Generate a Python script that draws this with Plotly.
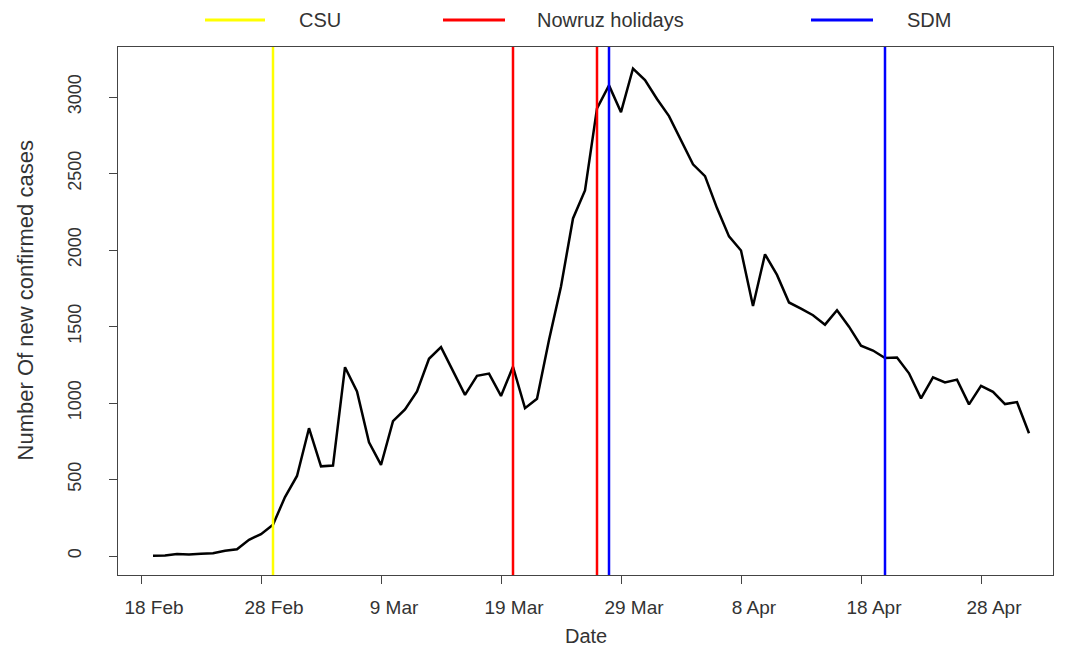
import plotly.graph_objects as go
import pandas as pd

# ---------------- data ----------------
start_date = "2020-02-19"
new_cases = [2, 3, 13, 10, 15, 18, 34, 44, 106, 143, 205, 385, 523, 835, 586, 591,
             1234, 1076, 743, 595, 881, 958, 1075, 1289, 1365, 1209, 1053, 1178, 1192,
             1046, 1237, 966, 1028, 1411, 1762, 2206, 2389, 2926, 3076, 2901, 3186, 3110,
             2987, 2875, 2715, 2560, 2483, 2274, 2089, 1997, 1634, 1972, 1837, 1657, 1617,
             1574, 1512, 1606, 1499, 1374, 1343, 1294, 1297, 1194, 1030, 1168, 1134, 1153,
             991, 1112, 1073, 993, 1006, 802]
dates = pd.date_range(start_date, periods=len(new_cases), freq="D")

event_names = ["CSU", "Nowruz holidays", "Nowruz holidays", "SDM", "SDM"]
event_dates = ["2020-02-29", "2020-03-20", "2020-03-27", "2020-03-28", "2020-04-20"]
event_colors = {"CSU": "#FFFF00", "Nowruz holidays": "#FF0000", "SDM": "#0000FF"}

x_tick_dates = ["2020-02-18", "2020-02-28", "2020-03-09", "2020-03-19",
                "2020-03-29", "2020-04-08", "2020-04-18", "2020-04-28"]
x_tick_labels = ["18 Feb", "28 Feb", "9 Mar", "19 Mar", "29 Mar", "8 Apr", "18 Apr", "28 Apr"]
y_tick_vals = [0, 500, 1000, 1500, 2000, 2500, 3000]

# ---------------- layout geometry (pixels) ----------------
W, H = 1069, 649
L, R, T, B = 118, 1053, 47, 575
FONT = "Liberation Sans, Arial"
TXT = "#333333"


def px_x(px):
    return (px - L) / (R - L)


def px_y(py):
    return (B - py) / (B - T)


fig = go.Figure()
fig.add_trace(go.Scatter(x=dates, y=new_cases, mode="lines",
                         line=dict(color="black", width=2.5),
                         showlegend=False, hoverinfo="x+y"))

for name, d in zip(event_names, event_dates):
    fig.add_shape(type="line", xref="x", yref="paper", x0=d, x1=d, y0=0, y1=1,
                  line=dict(color=event_colors[name], width=2.5), layer="above")

# manual legend on top
legend_items = [("CSU", 205, 265, 297), ("Nowruz holidays", 443, 505, 535), ("SDM", 811, 873, 905)]
ly = px_y(20)
for name, x0, x1, xt in legend_items:
    fig.add_shape(type="line", xref="paper", yref="paper", x0=px_x(x0), x1=px_x(x1),
                  y0=ly, y1=ly, line=dict(color=event_colors[name], width=3))
    fig.add_annotation(text=name, xref="paper", yref="paper", x=px_x(xt), y=ly,
                       xanchor="left", yanchor="middle", showarrow=False,
                       font=dict(family=FONT, size=20, color=TXT))

fig.add_annotation(text="Date", xref="paper", yref="paper", x=0.5, y=px_y(636),
                   xanchor="center", yanchor="middle", showarrow=False,
                   font=dict(family=FONT, size=20, color=TXT))
fig.add_annotation(text="Number Of new confirmed cases", xref="paper", yref="paper",
                   x=px_x(25), y=0.52, textangle=-90, xanchor="center", yanchor="middle",
                   showarrow=False,
                   font=dict(family=FONT, size=22, color=TXT))

fig.update_layout(
    width=W, height=H,
    margin=dict(l=L, r=W - R, t=T, b=H - B),
    paper_bgcolor="white", plot_bgcolor="white",
    showlegend=False,
    xaxis=dict(
        type="date",
        range=["2020-02-16 02:00:00", "2020-05-04 00:00:00"],
        tickmode="array", tickvals=x_tick_dates, ticktext=x_tick_labels,
        ticks="outside", ticklen=8, tickcolor="#444444", tickwidth=1,
        showline=True, linecolor="#444444", linewidth=1, mirror=True,
        showgrid=False, zeroline=False,
        tickfont=dict(family=FONT, size=19, color=TXT),
        ticklabelstandoff=7, ticklabelshift=13,
    ),
    yaxis=dict(
        range=[-124.2, 3326.8],
        tickmode="array", tickvals=y_tick_vals,
        ticks="outside", ticklen=8, tickcolor="#444444", tickwidth=1,
        showline=True, linecolor="#444444", linewidth=1, mirror=True,
        showgrid=False, zeroline=False, tickangle=-90,
        tickfont=dict(family=FONT, size=18, color=TXT),
        ticklabelstandoff=21,
    ),
)

fig.write_html("out.html")
